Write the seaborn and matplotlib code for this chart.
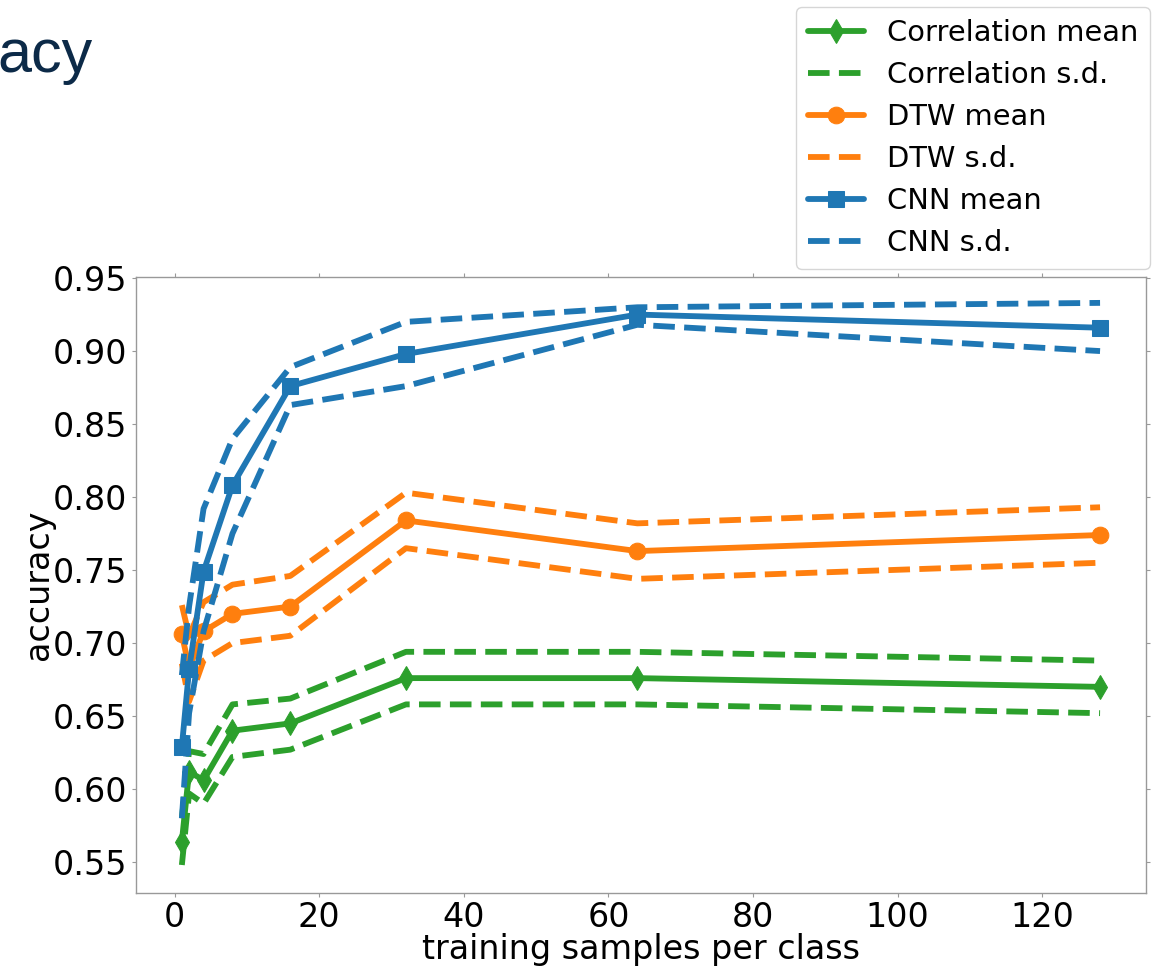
import matplotlib
matplotlib.use("Agg")
import matplotlib.pyplot as plt
import seaborn as sns
import pandas as pd

# training samples per class
samples = [1, 2, 4, 8, 16, 32, 64, 128]

corr_mean = [0.564, 0.612, 0.606, 0.640, 0.645, 0.676, 0.676, 0.670]
corr_upper = [0.580, 0.626, 0.624, 0.658, 0.662, 0.694, 0.694, 0.688]
corr_lower = [0.548, 0.597, 0.590, 0.622, 0.627, 0.658, 0.658, 0.652]

dtw_mean = [0.706, 0.683, 0.708, 0.720, 0.725, 0.784, 0.763, 0.774]
dtw_upper = [0.726, 0.705, 0.728, 0.740, 0.746, 0.803, 0.782, 0.793]
dtw_lower = [0.686, 0.660, 0.688, 0.700, 0.705, 0.765, 0.744, 0.755]

cnn_mean = [0.629, 0.682, 0.749, 0.808, 0.876, 0.898, 0.925, 0.916]
cnn_upper = [0.678, 0.725, 0.792, 0.840, 0.889, 0.920, 0.930, 0.933]
cnn_lower = [0.580, 0.652, 0.708, 0.775, 0.863, 0.876, 0.918, 0.900]

methods = ["Correlation", "DTW", "CNN"]
means = [corr_mean, dtw_mean, cnn_mean]
uppers = [corr_upper, dtw_upper, cnn_upper]
lowers = [corr_lower, dtw_lower, cnn_lower]
colors = ["#2ca02c", "#ff7f0e", "#1f77b4"]
markers = ["d", "o", "s"]

sns.set_style("white")
plt.rcParams["font.family"] = ["DejaVu Sans"]
plt.rcParams["text.color"] = "black"
plt.rcParams["axes.labelcolor"] = "black"

fig = plt.figure(figsize=(11.6, 9.67), dpi=100)
ax = fig.add_axes([0.1172, 0.0765, 0.8707, 0.637])

lw = 4.2
handles = []
labels = []
for name, m, up, lo, c, mk in zip(methods, means, uppers, lowers, colors, markers):
    df = pd.DataFrame({"x": samples, "mean": m, "upper": up, "lower": lo})
    sns.lineplot(data=df, x="x", y="mean", ax=ax, color=c, marker=mk,
                 markersize=12, markeredgecolor=c, linewidth=lw,
                 errorbar=None, legend=False)
    h_mean = ax.get_lines()[-1]
    sns.lineplot(data=df, x="x", y="upper", ax=ax, color=c, linestyle="--",
                 linewidth=lw, errorbar=None, legend=False)
    h_sd = ax.get_lines()[-1]
    sns.lineplot(data=df, x="x", y="lower", ax=ax, color=c, linestyle="--",
                 linewidth=lw, errorbar=None, legend=False)
    handles += [h_mean, h_sd]
    labels += [f"{name} mean", f"{name} s.d."]

ax.set_xlim(-5.35, 134.35)
ax.set_ylim(0.5288, 0.9507)
ax.set_xticks([0, 20, 40, 60, 80, 100, 120])
ax.set_yticks([0.55, 0.60, 0.65, 0.70, 0.75, 0.80, 0.85, 0.90, 0.95])
ax.set_yticklabels([f"{v:.2f}" for v in ax.get_yticks()])

ax.set_xlabel("training samples per class", fontsize=24, labelpad=-1, color="black")
ax.set_ylabel("accuracy", fontsize=24, labelpad=-1, color="black")
ax.tick_params(axis="both", which="both", direction="out", length=3,
               width=0.8, color="#999999", labelsize=24, labelcolor="black",
               top=True, right=True, bottom=True, left=True, pad=3)
for sp in ax.spines.values():
    sp.set_color("#999999")
    sp.set_linewidth(1.0)

leg = ax.legend(handles, labels, loc="lower right",
                bbox_to_anchor=(0.9914, 0.7218), bbox_transform=fig.transFigure,
                borderaxespad=0, fontsize=20.8, labelspacing=0.49,
                handlelength=1.95, frameon=True, framealpha=0.8,
                edgecolor="#cccccc", fancybox=True, labelcolor="black")

fig.text(-0.002, 1 - 72 / 967, "acy", fontsize=44, color="#0c2a48",
         family=["Liberation Sans", "DejaVu Sans"], ha="left", va="baseline")

fig.savefig("out.png", dpi=100, facecolor="white")
